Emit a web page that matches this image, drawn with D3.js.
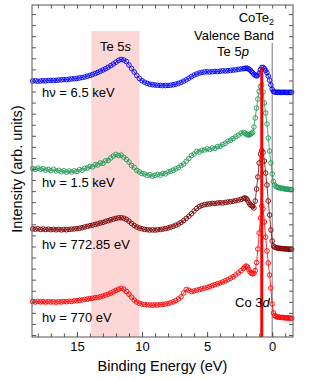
<!DOCTYPE html>
<html>
<head>
<meta charset="utf-8">
<script src="https://cdn.jsdelivr.net/npm/d3@7"></script>
<style>
  body { margin: 0; background: #fff; }
  text { font-family: "Liberation Sans", Arial, Helvetica, sans-serif; fill: #000; }
</style>
</head>
<body>
<div id="chart"></div>
<script>

// binding energy grid (eV), 0.2 eV steps then 0.1 eV near E_F
var energy = [
  18.4, 18.2, 18.0, 17.8, 17.6, 17.4, 17.2, 17.0, 16.8, 16.6,
  16.4, 16.2, 16.0, 15.8, 15.6, 15.4, 15.2, 15.0, 14.8, 14.6,
  14.4, 14.2, 14.0, 13.8, 13.6, 13.4, 13.2, 13.0, 12.8, 12.6,
  12.4, 12.2, 12.0, 11.8, 11.6, 11.4, 11.2, 11.0, 10.8, 10.6,
  10.4, 10.2, 10.0, 9.8, 9.6, 9.4, 9.2, 9.0, 8.8, 8.6,
  8.4, 8.2, 8.0, 7.8, 7.6, 7.4, 7.2, 7.0, 6.8, 6.6,
  6.4, 6.2, 6.0, 5.8, 5.6, 5.4, 5.2, 5.0, 4.8, 4.6,
  4.4, 4.2, 4.0, 3.8, 3.6, 3.4, 3.2, 3.0, 2.8, 2.6,
  2.4, 2.2,
  2.1, 2.0, 1.9, 1.8, 1.7, 1.6, 1.5, 1.4, 1.3, 1.2,
  1.1, 1.0, 0.9, 0.8, 0.7, 0.6, 0.5, 0.4, 0.3, 0.2,
  0.1, 0.0, -0.1, -0.2, -0.3, -0.4, -0.5, -0.6, -0.7, -0.8,
  -0.9, -1.0, -1.1, -1.2, -1.3, -1.4, -1.5
];

// intensities (arb. units, offset spectra)
var int6500 = [
  256.0, 256.2, 255.8, 256.0, 256.3, 256.1, 256.4, 256.5, 256.7, 256.6,
  257.0, 257.2, 257.5, 257.4, 257.8, 258.1, 258.3, 258.6, 259.0, 259.5,
  260.0, 260.8, 261.6, 262.5, 263.5, 264.6, 265.8, 267.0, 268.3, 269.8,
  271.4, 273.0, 274.8, 276.6, 277.6, 277.0, 275.5, 272.0, 268.5, 265.0,
  261.5, 258.5, 256.3, 254.8, 253.6, 252.8, 252.3, 252.0, 251.7, 251.6,
  251.4, 251.5, 251.6, 251.8, 252.2, 252.8, 253.6, 254.6, 255.8, 257.2,
  258.8, 260.4, 261.9, 263.0, 264.0, 264.6, 265.1, 265.2, 265.0, 265.3,
  265.6, 265.4, 265.8, 266.2, 266.0, 266.3, 266.6, 266.9, 267.2, 267.6,
  268.0, 268.4,
  268.6, 268.8, 268.6, 268.0, 267.0, 265.6, 264.2, 262.8, 261.6, 261.0,
  261.8, 264.0, 267.2, 269.5, 269.6, 268.4, 266.6, 264.2, 261.0, 256.8,
  252.0, 247.8, 245.6, 244.9, 244.7, 244.6, 244.8, 244.7, 244.5, 244.7,
  244.8, 244.6, 244.7, 244.5, 244.7, 244.6, 244.7
];

var int1500 = [
  168.5, 167.6, 168.9, 167.8, 168.3, 166.9, 167.5, 166.4, 167.8, 166.0,
  166.7, 165.2, 166.3, 164.9, 166.0, 165.0, 166.2, 165.6, 167.4, 166.8,
  168.7, 169.0, 170.6, 170.1, 172.3, 172.0, 174.1, 173.6, 176.2, 176.5,
  179.0, 181.0, 182.6, 181.5, 181.9, 179.8, 177.6, 175.0, 171.5, 169.6,
  166.5, 165.2, 163.4, 163.0, 161.6, 162.3, 160.8, 161.7, 162.5, 161.9,
  163.5, 163.2, 165.0, 165.6, 166.8, 168.2, 169.4, 171.4, 173.0, 175.8,
  178.6, 181.5, 183.0, 185.6, 185.0, 186.8, 187.0, 188.2, 187.5, 189.0,
  188.6, 190.4, 190.8, 192.5, 193.6, 195.8, 196.6, 198.4, 200.2, 201.8,
  203.8, 204.6,
  204.0, 203.0, 202.3, 201.8, 202.6, 203.5, 204.5, 210.0, 219.0, 229.0,
  238.0, 245.5, 250.5, 252.0, 245.0, 234.0, 224.0, 213.0, 199.0, 186.0,
  174.0, 163.0, 155.5, 152.0, 150.5, 149.8, 149.5, 149.0, 148.8, 148.7,
  148.3, 148.0, 147.8, 147.9, 147.5, 147.6, 147.4
];

var int772 = [
  108.2, 107.8, 108.3, 107.6, 108.0, 107.5, 107.9, 107.3, 107.7, 107.2,
  107.6, 107.1, 107.5, 107.2, 107.6, 107.9, 108.1, 108.4, 108.8, 109.3,
  110.0, 110.6, 111.3, 111.8, 112.6, 113.2, 114.0, 114.6, 115.6, 116.3,
  117.2, 117.9, 118.6, 119.2, 119.3, 118.8, 117.6, 115.8, 113.6, 111.6,
  110.0, 108.9, 108.2, 107.6, 107.3, 107.0, 107.1, 106.9, 107.3, 107.5,
  107.9, 108.4, 109.0, 109.8, 110.7, 111.8, 113.0, 114.6, 116.4, 118.6,
  120.8, 123.2, 126.0, 128.6, 130.4, 131.6, 132.4, 132.9, 133.2, 133.6,
  133.5, 134.0, 134.3, 134.0, 134.6, 135.0, 135.4, 135.8, 136.3, 136.9,
  137.6, 138.6,
  139.0, 138.5, 137.0, 134.5, 132.5, 131.5, 130.5, 129.0, 136.0, 148.0,
  160.0, 174.0, 183.0, 186.5, 184.5, 176.0, 164.0, 152.0, 136.0, 122.0,
  107.0, 96.0, 91.0, 89.8, 89.3, 89.0, 88.9, 88.6, 88.5, 88.3,
  88.2, 88.0, 88.1, 87.8, 87.7, 87.8, 87.6
];

var int770 = [
  35.4, 35.0, 35.6, 35.1, 35.3, 34.9, 35.4, 35.0, 35.2, 34.8,
  35.3, 35.0, 35.5, 35.2, 35.8, 35.6, 36.2, 36.3, 36.8, 37.0,
  37.6, 37.9, 38.5, 38.7, 39.3, 39.6, 40.3, 41.0, 41.9, 42.8,
  44.0, 45.2, 46.6, 47.8, 48.6, 47.8, 45.6, 42.8, 39.8, 37.0,
  35.0, 33.8, 33.0, 32.5, 32.2, 32.0, 31.9, 32.1, 32.0, 32.4,
  32.6, 33.0, 33.5, 34.2, 35.2, 36.4, 38.0, 40.2, 44.0, 47.6,
  46.8, 45.4, 46.0, 46.8, 47.4, 48.2, 48.8, 49.6, 50.4, 51.4,
  52.4, 53.2, 54.0, 55.0, 56.2, 57.4, 58.8, 60.2, 62.0, 64.0,
  66.2, 68.6,
  70.0, 71.0, 70.0, 67.5, 65.0, 63.8, 63.2, 63.8, 66.5, 74.5,
  88.0, 104.0, 119.0, 131.0, 128.0, 115.0, 100.0, 86.0, 74.0, 62.0,
  49.0, 33.0, 24.0, 21.5, 20.5, 20.0, 19.8, 19.7, 19.4, 19.6,
  19.3, 19.0, 19.2, 18.9, 19.0, 18.7, 18.8
];

var photonLabels = ["h\u03bd = 6.5 keV", "h\u03bd = 1.5 keV", "h\u03bd = 772.85 eV", "h\u03bd = 770 eV"];
var seriesColors = ["#0000ff", "#1f9a55", "#7a0000", "#ff0000"];
var xTickLabels = [15, 10, 5, 0];
var te5sBand = [13.9, 10.2];
var fermiLevel = 0;
var co3dPeak = 0.8;

var svgWidth = 326;
var svgHeight = 379;

var margin = {
  top: 5,
  right: 33,
  bottom: 42,
  left: 32
};

var width = svgWidth - margin.left - margin.right;
var height = svgHeight - margin.top - margin.bottom;

var svg = d3.select("#chart")
  .append("svg")
  .attr("width", svgWidth)
  .attr("height", svgHeight);

var chartGroup = svg.append("g")
  .attr("transform", `translate(${margin.left}, ${margin.top})`);

var xScale = d3.scaleLinear()
  .domain([18.45, -1.6])
  .range([0, width]);

var yScale = d3.scaleLinear()
  .domain([0, height])
  .range([height, 0]);

// Te 5s shaded band
chartGroup.append("rect")
  .attr("x", xScale(te5sBand[0]))
  .attr("y", yScale(306))
  .attr("width", xScale(te5sBand[1]) - xScale(te5sBand[0]))
  .attr("height", yScale(0) - yScale(306))
  .attr("fill", "#fdd6d6");

// Fermi level
chartGroup.append("line")
  .attr("x1", xScale(fermiLevel))
  .attr("x2", xScale(fermiLevel))
  .attr("y1", yScale(294))
  .attr("y2", height)
  .attr("stroke", "#777")
  .attr("stroke-width", 1);

var spectra = [int6500, int1500, int772, int770];

var line = d3.line()
  .x(d => xScale(d[0]))
  .y(d => yScale(d[1]));

spectra.forEach(function(vals, i) {
  var pts = energy.map((e, j) => [e, vals[j]]);
  var g = chartGroup.append("g");
  g.append("path")
    .datum(pts)
    .attr("d", line)
    .attr("fill", "none")
    .attr("stroke", seriesColors[i])
    .attr("stroke-width", 0.8);
  g.selectAll("circle")
    .data(pts)
    .enter()
    .append("circle")
    .attr("cx", d => xScale(d[0]))
    .attr("cy", d => yScale(d[1]))
    .attr("r", 2.3)
    .attr("fill", "none")
    .attr("stroke", seriesColors[i])
    .attr("stroke-width", 0.9);
});

// Co 3d marker line, top at the 6.5 keV peak
var peakIdx = energy.indexOf(co3dPeak);
chartGroup.append("line")
  .attr("x1", xScale(co3dPeak))
  .attr("x2", xScale(co3dPeak))
  .attr("y1", yScale(int6500[peakIdx]))
  .attr("y2", height)
  .attr("stroke", "#ff0000")
  .attr("stroke-width", 3);

// axes, ticks pointing inward
var axisColor = "#555";

var bottomAxis = d3.axisBottom(xScale)
  .tickValues(xTickLabels)
  .tickSizeInner(-5)
  .tickSizeOuter(0)
  .tickPadding(5);
var bottomMinor = d3.axisBottom(xScale)
  .tickValues(d3.range(-1, 19))
  .tickFormat("")
  .tickSizeInner(-3.5)
  .tickSizeOuter(0);
var topMinor = d3.axisTop(xScale)
  .tickValues(d3.range(-1, 19))
  .tickFormat("")
  .tickSizeInner(-3.5)
  .tickSizeOuter(0);

var yTicks = d3.range(2, height, height / 30);
var leftAxis = d3.axisLeft(yScale)
  .tickValues(yTicks)
  .tickFormat("")
  .tickSizeInner(-4)
  .tickSizeOuter(0);
var rightAxis = d3.axisRight(yScale)
  .tickValues(yTicks)
  .tickFormat("")
  .tickSizeInner(-4)
  .tickSizeOuter(0);

var xAxis = chartGroup.append("g")
  .attr("transform", `translate(0, ${height})`)
  .call(bottomAxis);
chartGroup.append("g")
  .attr("transform", `translate(0, ${height})`)
  .call(bottomMinor);
chartGroup.append("g")
  .call(topMinor);
chartGroup.append("g")
  .call(leftAxis);
chartGroup.append("g")
  .attr("transform", `translate(${width}, 0)`)
  .call(rightAxis);

chartGroup.selectAll(".domain").remove();
chartGroup.selectAll(".tick line").attr("stroke", axisColor);
xAxis.selectAll("text")
  .attr("font-size", "13px")
  .attr("font-family", "Liberation Sans, Arial, sans-serif")
  .attr("fill", "#000");

chartGroup.append("rect")
  .attr("x", 0)
  .attr("y", 0)
  .attr("width", width)
  .attr("height", height)
  .attr("fill", "none")
  .attr("stroke", axisColor)
  .attr("stroke-width", 1);

// axis titles
svg.append("text")
  .attr("x", margin.left + width / 2)
  .attr("y", 371)
  .attr("text-anchor", "middle")
  .attr("font-size", "14.5px")
  .text("Binding Energy (eV)");

svg.append("text")
  .attr("transform", `translate(22, ${margin.top + height / 2 - 2}) rotate(-90)`)
  .attr("text-anchor", "middle")
  .attr("font-size", "14.5px")
  .text("Intensity (arb. units)");

// photon energy labels
var labelY = [97, 187, 249, 322];
photonLabels.forEach(function(lbl, i) {
  svg.append("text")
    .attr("x", 42)
    .attr("y", labelY[i])
    .attr("font-size", "13px")
    .text(lbl);
});

// annotations
var t1 = svg.append("text")
  .attr("x", 274)
  .attr("y", 22)
  .attr("text-anchor", "end")
  .attr("font-size", "13px");
t1.append("tspan").text("CoTe");
t1.append("tspan").attr("font-size", "9px").attr("dy", 3).text("2");

svg.append("text")
  .attr("x", 274)
  .attr("y", 39.5)
  .attr("text-anchor", "end")
  .attr("font-size", "13px")
  .text("Valence Band");

var t3 = svg.append("text")
  .attr("x", 233)
  .attr("y", 55.5)
  .attr("text-anchor", "middle")
  .attr("font-size", "13px");
t3.append("tspan").text("Te 5");
t3.append("tspan").attr("font-style", "italic").text("p");

var t4 = svg.append("text")
  .attr("x", 115.5)
  .attr("y", 51)
  .attr("text-anchor", "middle")
  .attr("font-size", "13px");
t4.append("tspan").text("Te 5");
t4.append("tspan").attr("font-style", "italic").text("s");

var t5 = svg.append("text")
  .attr("x", 235)
  .attr("y", 306.5)
  .attr("font-size", "13px");
t5.append("tspan").text("Co 3");
t5.append("tspan").attr("font-style", "italic").text("d");

</script>
</body>
</html>
